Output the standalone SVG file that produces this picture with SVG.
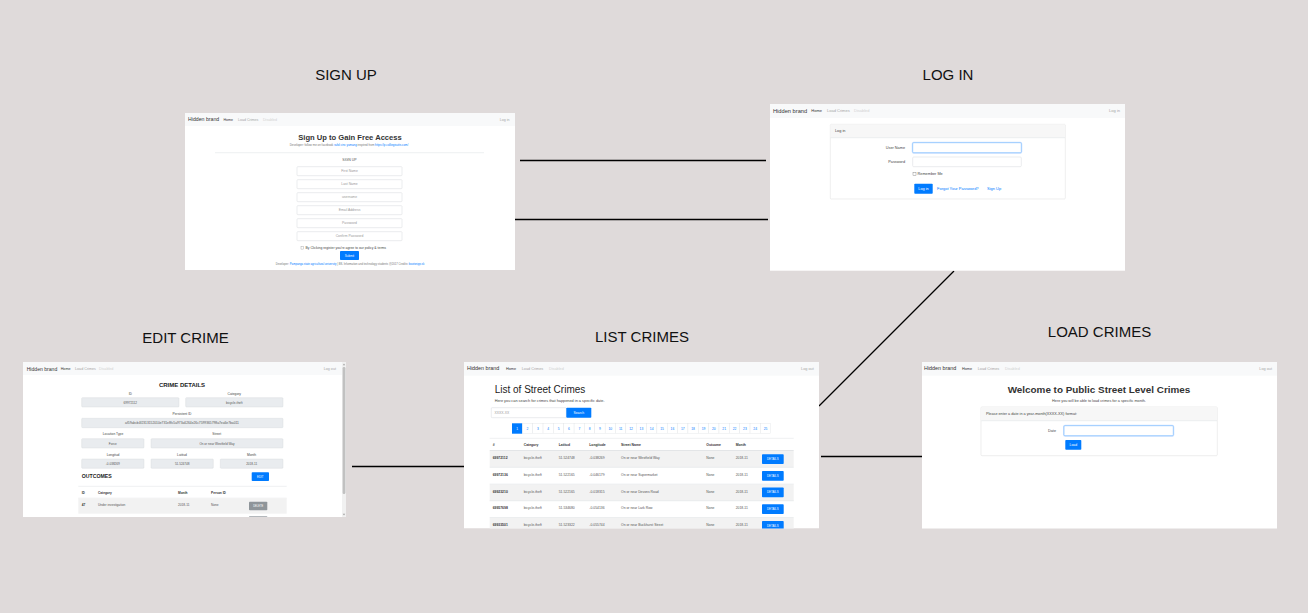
<svg xmlns="http://www.w3.org/2000/svg" width="1308" height="613" viewBox="0 0 1308 613" font-family="'Liberation Sans', Arial, sans-serif">
<defs>
<style>
.bg{fill:#dfdada}
.ttl{font-size:15px;fill:#111;text-anchor:middle}
.page{fill:#ffffff}
.nav{fill:#f8f9fa}
.brand{fill:#333}
.home{fill:#333}
.nl{fill:#a6a6a6}
.dis{fill:#d2d2d2}
.lbl{fill:#444}
.mid{text-anchor:middle}
.end{text-anchor:end}
.inp{fill:#fff;stroke:#d6d9dc;stroke-width:0.5}
.ro{fill:#e9ecef;stroke:#d4d8dc;stroke-width:0.4}
.foc{fill:#fff;stroke:#80bdff;stroke-width:0.7}
.glow{fill:none;stroke:#cfe4ff;stroke-width:2}
.btn{fill:#007bff}
.btxt{fill:#fff;text-anchor:middle}
.link{fill:#007bff}
.ph{fill:#9a9a9a;text-anchor:middle}
.card{fill:#fff;stroke:#e2e2e2;stroke-width:0.6}
.cardh{fill:#f7f7f7}
.stripe{fill:#f2f2f2}
.rule{stroke:#e3e5e8;stroke-width:0.6}
.hd{font-weight:bold;fill:#333}
.cell{fill:#555}
.pg{fill:#fff;stroke:#e0e3e6;stroke-width:0.4}
.conn{stroke:#000;stroke-width:1.3;fill:none}
</style>
<clipPath id="clipList"><rect x="464" y="362" width="355" height="166.5"/></clipPath>
<clipPath id="clipEdit"><rect x="23" y="362" width="323" height="155"/></clipPath>
</defs>

<rect class="bg" x="0" y="0" width="1308" height="613"/>

<!-- titles -->
<g id="titles">
<text class="ttl" x="346" y="79.5">SIGN UP</text>
<text class="ttl" x="948" y="79.5">LOG IN</text>
<text class="ttl" x="185.5" y="342.5">EDIT CRIME</text>
<text class="ttl" x="642" y="341.5">LIST CRIMES</text>
<text class="ttl" x="1099.5" y="336.5">LOAD CRIMES</text>
</g>

<!-- connectors -->
<g id="connectors">
<line class="conn" x1="520" y1="160.5" x2="766" y2="160.5"/>
<line class="conn" x1="515" y1="219.5" x2="768" y2="219.5"/>
<line class="conn" x1="954" y1="271" x2="819" y2="406"/>
<line class="conn" x1="352" y1="466.5" x2="464" y2="466.5"/>
<line class="conn" x1="821" y1="456.5" x2="922" y2="456.5"/>
</g>

<!-- SIGN UP -->
<g id="node-signup">
<rect class="page" x="185" y="113" width="330" height="157"/>
<rect class="nav" x="185" y="113" width="330" height="13"/>
<text class="brand" x="188" y="121.3" font-size="5.2">Hidden brand</text>
<text class="home" x="223.5" y="120.8" font-size="3.6">Home</text>
<text class="nl" x="238" y="120.8" font-size="3.6">Load Crimes</text>
<text class="dis" x="263" y="120.8" font-size="3.6">Disabled</text>
<text class="nl end" x="509.5" y="120.8" font-size="3.6">Log in</text>
<text x="350" y="139.6" font-size="7.6" font-weight="bold" fill="#333" class="mid">Sign Up to Gain Free Access</text>
<text x="349" y="146" font-size="2.9" fill="#777" class="mid">Developer: follow me on facebook <tspan class="link">rafol cinc yumang</tspan> inspired from <tspan class="link">https://p.colliegisutts.com/</tspan></text>
<line class="rule" x1="215" y1="152.7" x2="484" y2="152.7"/>
<text x="349.5" y="160.6" font-size="3.5" fill="#555" class="mid">SIGN UP</text>
<rect class="inp" x="297" y="166.7" width="105" height="9" rx="0.8"/>
<text class="ph" x="349.5" y="172.4" font-size="3.4">First Name</text>
<rect class="inp" x="297" y="179.7" width="105" height="9" rx="0.8"/>
<text class="ph" x="349.5" y="185.4" font-size="3.4">Last Name</text>
<rect class="inp" x="297" y="192.7" width="105" height="9" rx="0.8"/>
<text class="ph" x="349.5" y="198.4" font-size="3.4">username</text>
<rect class="inp" x="297" y="205.7" width="105" height="9" rx="0.8"/>
<text class="ph" x="349.5" y="211.4" font-size="3.4">Email Address</text>
<rect class="inp" x="297" y="218.7" width="105" height="9" rx="0.8"/>
<text class="ph" x="349.5" y="224.4" font-size="3.4">Password</text>
<rect class="inp" x="297" y="231.7" width="105" height="9" rx="0.8"/>
<text class="ph" x="349.5" y="237.4" font-size="3.4">Confirm Password</text>
<rect x="301" y="246.3" width="2.8" height="2.8" fill="#fff" stroke="#999" stroke-width="0.4"/>
<text x="305.5" y="248.9" font-size="3.4" fill="#444">By Clicking register you're agree to our policy &amp; terms</text>
<rect class="btn" x="340" y="251" width="19" height="9" rx="0.8"/>
<text class="btxt" x="349.5" y="256.5" font-size="3">Submit</text>
<text x="350" y="264.6" font-size="2.75" fill="#777" class="mid">Developer: <tspan class="link">Pampanga state agricultural university</tspan> | BS. Information and technology students @2017 Credits: <tspan class="link">bootsnipp.sk</tspan></text>
</g>

<!-- LOG IN -->
<g id="node-login">
<rect class="page" x="770" y="104" width="355" height="166.7"/>
<rect class="nav" x="770" y="104" width="355" height="14"/>
<text class="brand" x="773" y="113" font-size="5.7">Hidden brand</text>
<text class="home" x="811.3" y="112.4" font-size="4">Home</text>
<text class="nl" x="827" y="112.4" font-size="4">Load Crimes</text>
<text class="dis" x="854" y="112.4" font-size="4">Disabled</text>
<text class="nl end" x="1120" y="112.4" font-size="4">Log in</text>
<rect class="card" x="830.3" y="124.3" width="235" height="74.7" rx="1"/>
<rect class="cardh" x="830.6" y="124.6" width="234.4" height="13.1"/>
<line class="rule" x1="830.6" y1="137.7" x2="1065" y2="137.7"/>
<text class="lbl" x="835" y="132.4" font-size="3.8">Log in</text>
<text class="lbl end" x="905" y="149" font-size="3.8">User Name</text>
<rect class="glow" x="912.7" y="142.7" width="108.6" height="10" rx="1"/>
<rect class="foc" x="912.7" y="142.7" width="108.6" height="10" rx="1"/>
<text class="lbl end" x="905" y="163.3" font-size="3.8">Password</text>
<rect class="inp" x="912.7" y="157" width="108.6" height="9.7" rx="1"/>
<rect x="913" y="172.6" width="3" height="3" fill="#fff" stroke="#777" stroke-width="0.4"/>
<text class="lbl" x="917.6" y="175.4" font-size="3.8">Remember Me</text>
<rect class="btn" x="914.3" y="183.7" width="18.4" height="10" rx="0.8"/>
<text class="btxt" x="923.5" y="190" font-size="3.8">Log in</text>
<text class="link" x="937" y="190" font-size="4">Forgot Your Password?</text>
<text class="link" x="987" y="190" font-size="4">Sign Up</text>
</g>

<!-- EDIT CRIME -->
<g id="node-edit" clip-path="url(#clipEdit)">
<rect class="page" x="23" y="362" width="323" height="155"/>
<rect class="nav" x="23" y="362" width="319" height="13"/>
<text class="brand" x="26.7" y="370.6" font-size="5.1">Hidden brand</text>
<text class="home" x="60.7" y="370" font-size="3.7">Home</text>
<text class="nl" x="75" y="370" font-size="3.7">Load Crimes</text>
<text class="dis" x="99" y="370" font-size="3.7">Disabled</text>
<text class="nl end" x="336" y="370" font-size="3.7">Log out</text>
<rect x="342" y="362" width="4" height="155" fill="#f1f1f1"/>
<rect x="342.6" y="367" width="2.8" height="127" rx="1.2" fill="#c1c1c1"/>
<path d="M342.8 365.2 L344 363.4 L345.2 365.2 Z M342.8 513.8 L344 515.6 L345.2 513.8 Z" fill="#a3a3a3"/>
<text x="182" y="387.2" font-size="6" font-weight="bold" fill="#222" class="mid">CRIME DETAILS</text>
<text class="lbl mid" x="130.3" y="394.6" font-size="3.3">ID</text>
<text class="lbl mid" x="234.3" y="394.6" font-size="3.3">Category</text>
<rect class="ro" x="81.7" y="397.7" width="97.3" height="9.3" rx="0.8"/>
<rect class="ro" x="185.7" y="397.7" width="97.3" height="9.3" rx="0.8"/>
<text class="cell mid" x="130.3" y="403.5" font-size="3.1">69972112</text>
<text class="cell mid" x="234.3" y="403.5" font-size="3.1">bicycle-theft</text>
<text class="lbl mid" x="182" y="414.6" font-size="3.3">Persistent ID</text>
<rect class="ro" x="81.7" y="418.3" width="201.3" height="9.4" rx="0.8"/>
<text class="cell mid" x="182" y="424.1" font-size="3.3">af59abcb4f2313152010e731e8fc5a973a6264e26c7599365798a7ea6e7ba011</text>
<text class="lbl mid" x="113" y="435.3" font-size="3.3">Location Type</text>
<text class="lbl mid" x="216.7" y="435.3" font-size="3.3">Street</text>
<rect class="ro" x="81.7" y="438.7" width="62.3" height="9.3" rx="0.8"/>
<rect class="ro" x="151" y="438.7" width="132" height="9.3" rx="0.8"/>
<text class="cell mid" x="112.8" y="444.5" font-size="3.1">Force</text>
<text class="cell mid" x="217" y="444.5" font-size="3.1">On or near Westfield Way</text>
<text class="lbl mid" x="113" y="456" font-size="3.3">Longitud</text>
<text class="lbl mid" x="182" y="456" font-size="3.3">Latitud</text>
<text class="lbl mid" x="251.5" y="456" font-size="3.3">Month</text>
<rect class="ro" x="81.7" y="459" width="62.3" height="9.3" rx="0.8"/>
<rect class="ro" x="151" y="459" width="62.3" height="9.3" rx="0.8"/>
<rect class="ro" x="220.3" y="459" width="62.7" height="9.3" rx="0.8"/>
<text class="cell mid" x="112.8" y="464.8" font-size="3.1">-0.038269</text>
<text class="cell mid" x="182.2" y="464.8" font-size="3.1">51.524748</text>
<text class="cell mid" x="251.7" y="464.8" font-size="3.1">2018-11</text>
<text x="81.7" y="477.9" font-size="5.2" font-weight="bold" fill="#222">OUTCOMES</text>
<rect class="btn" x="251.7" y="472.3" width="17.3" height="8.7" rx="0.8"/>
<text class="btxt" x="260.3" y="477.6" font-size="2.8">EDIT</text>
<line class="rule" x1="78.3" y1="486.3" x2="286.7" y2="486.3"/>
<text class="hd" x="81.7" y="493.9" font-size="3.2">ID</text>
<text class="hd" x="98" y="493.9" font-size="3.2">Category</text>
<text class="hd" x="178" y="493.9" font-size="3.2">Month</text>
<text class="hd" x="211" y="493.9" font-size="3.2">Person ID</text>
<line class="rule" x1="78.3" y1="498.2" x2="286.7" y2="498.2"/>
<rect class="stripe" x="78.3" y="498.3" width="208.4" height="15.4"/>
<text class="hd" x="81.7" y="505.8" font-size="3.2">47</text>
<text class="cell" x="98" y="505.8" font-size="3.2">Under investigation</text>
<text class="cell" x="178" y="505.8" font-size="3.2">2018-11</text>
<text class="cell" x="211" y="505.8" font-size="3.2">None</text>
<rect x="249" y="501.7" width="18.3" height="8.6" rx="0.8" fill="#8f959a"/>
<text class="btxt" x="258.2" y="507" font-size="2.6">DELETE</text>
<rect x="249" y="516" width="18.3" height="6" rx="0.8" fill="#b4b8bc"/>
</g>

<!-- LIST CRIMES -->
<g id="node-list" clip-path="url(#clipList)">
<rect class="page" x="464" y="362" width="355" height="166.5"/>
<rect class="nav" x="464" y="362" width="355" height="13.7"/>
<text class="brand" x="467" y="370.4" font-size="5.4">Hidden brand</text>
<text class="home" x="506" y="369.8" font-size="3.8">Home</text>
<text class="nl" x="521.7" y="369.8" font-size="3.8">Load Crimes</text>
<text class="dis" x="549" y="369.8" font-size="3.8">Disabled</text>
<text class="nl end" x="813.7" y="369.8" font-size="3.8">Log out</text>
<text x="494.7" y="392.9" font-size="10" fill="#222">List of Street Crimes</text>
<text class="lbl" x="494.7" y="401.6" font-size="3.85">Here you can search for crimes that happened in a specific date.</text>
<rect class="inp" x="491.3" y="407.7" width="75" height="10" rx="0.8"/>
<text x="494.5" y="414" font-size="3.4" fill="#9a9a9a">XXXX-XX</text>
<rect class="btn" x="566.3" y="407.7" width="25" height="10" rx="0.8"/>
<text class="btxt" x="578.8" y="414" font-size="3.4">Search</text>
<g id="pagination" font-size="3.3">
<rect class="btn" x="512" y="423.3" width="10.35" height="10.4"/>
<text class="btxt" x="517.2" y="429.6">1</text>
<rect class="pg" x="522.35" y="423.3" width="10.35" height="10.4"/><text class="link mid" x="527.5" y="429.6">2</text>
<rect class="pg" x="532.7" y="423.3" width="10.35" height="10.4"/><text class="link mid" x="537.9" y="429.6">3</text>
<rect class="pg" x="543.05" y="423.3" width="10.35" height="10.4"/><text class="link mid" x="548.2" y="429.6">4</text>
<rect class="pg" x="553.4" y="423.3" width="10.35" height="10.4"/><text class="link mid" x="558.6" y="429.6">5</text>
<rect class="pg" x="563.75" y="423.3" width="10.35" height="10.4"/><text class="link mid" x="568.9" y="429.6">6</text>
<rect class="pg" x="574.1" y="423.3" width="10.35" height="10.4"/><text class="link mid" x="579.3" y="429.6">7</text>
<rect class="pg" x="584.45" y="423.3" width="10.35" height="10.4"/><text class="link mid" x="589.6" y="429.6">8</text>
<rect class="pg" x="594.8" y="423.3" width="10.35" height="10.4"/><text class="link mid" x="600" y="429.6">9</text>
<rect class="pg" x="605.15" y="423.3" width="10.35" height="10.4"/><text class="link mid" x="610.3" y="429.6">10</text>
<rect class="pg" x="615.5" y="423.3" width="10.35" height="10.4"/><text class="link mid" x="620.7" y="429.6">11</text>
<rect class="pg" x="625.85" y="423.3" width="10.35" height="10.4"/><text class="link mid" x="631" y="429.6">12</text>
<rect class="pg" x="636.2" y="423.3" width="10.35" height="10.4"/><text class="link mid" x="641.4" y="429.6">13</text>
<rect class="pg" x="646.55" y="423.3" width="10.35" height="10.4"/><text class="link mid" x="651.7" y="429.6">14</text>
<rect class="pg" x="656.9" y="423.3" width="10.35" height="10.4"/><text class="link mid" x="662.1" y="429.6">15</text>
<rect class="pg" x="667.25" y="423.3" width="10.35" height="10.4"/><text class="link mid" x="672.4" y="429.6">16</text>
<rect class="pg" x="677.6" y="423.3" width="10.35" height="10.4"/><text class="link mid" x="682.8" y="429.6">17</text>
<rect class="pg" x="687.95" y="423.3" width="10.35" height="10.4"/><text class="link mid" x="693.1" y="429.6">18</text>
<rect class="pg" x="698.3" y="423.3" width="10.35" height="10.4"/><text class="link mid" x="703.5" y="429.6">19</text>
<rect class="pg" x="708.65" y="423.3" width="10.35" height="10.4"/><text class="link mid" x="713.8" y="429.6">20</text>
<rect class="pg" x="719" y="423.3" width="10.35" height="10.4"/><text class="link mid" x="724.2" y="429.6">21</text>
<rect class="pg" x="729.35" y="423.3" width="10.35" height="10.4"/><text class="link mid" x="734.5" y="429.6">22</text>
<rect class="pg" x="739.7" y="423.3" width="10.35" height="10.4"/><text class="link mid" x="744.9" y="429.6">23</text>
<rect class="pg" x="750.05" y="423.3" width="10.35" height="10.4"/><text class="link mid" x="755.2" y="429.6">24</text>
<rect class="pg" x="760.4" y="423.3" width="10.35" height="10.4"/><text class="link mid" x="765.6" y="429.6">25</text>
</g>
<line class="rule" x1="489.7" y1="438.3" x2="793.7" y2="438.3"/>
<g font-size="3.4">
<text class="hd" x="492.7" y="445.6">#</text>
<text class="hd" x="523.7" y="445.6">Category</text>
<text class="hd" x="558.7" y="445.6">Latitud</text>
<text class="hd" x="589.3" y="445.6">Longitude</text>
<text class="hd" x="621" y="445.6">Street Name</text>
<text class="hd" x="706.3" y="445.6">Outcome</text>
<text class="hd" x="735.7" y="445.6">Month</text>
</g>
<line x1="489.7" y1="450.6" x2="793.7" y2="450.6" stroke="#dcdfe2" stroke-width="0.9"/>
<rect class="stripe" x="489.7" y="451" width="304" height="16.3"/>
<rect class="stripe" x="489.7" y="484.3" width="304" height="16.7"/>
<rect class="stripe" x="489.7" y="517.7" width="304" height="16.7"/>
<line class="rule" x1="489.7" y1="467.4" x2="793.7" y2="467.4"/>
<line class="rule" x1="489.7" y1="484.1" x2="793.7" y2="484.1"/>
<line class="rule" x1="489.7" y1="500.8" x2="793.7" y2="500.8"/>
<line class="rule" x1="489.7" y1="517.5" x2="793.7" y2="517.5"/>
<g font-size="3.4">
<text class="hd" x="492.7" y="459.2">69972112</text>
<text class="cell" x="523.7" y="459.2">bicycle-theft</text>
<text class="cell" x="558.7" y="459.2">51.524748</text>
<text class="cell" x="589.3" y="459.2">-0.038269</text>
<text class="cell" x="621" y="459.2">On or near Westfield Way</text>
<text class="cell" x="706.3" y="459.2">None</text>
<text class="cell" x="735.7" y="459.2">2018-11</text>
<rect class="btn" x="762" y="454.2" width="21.7" height="9.8" rx="0.8"/>
<text class="btxt" x="772.8" y="460" font-size="2.8">DETAILS</text>

<text class="hd" x="492.7" y="475.9">69972136</text>
<text class="cell" x="523.7" y="475.9">bicycle-theft</text>
<text class="cell" x="558.7" y="475.9">51.522165</text>
<text class="cell" x="589.3" y="475.9">-0.046179</text>
<text class="cell" x="621" y="475.9">On or near Supermarket</text>
<text class="cell" x="706.3" y="475.9">None</text>
<text class="cell" x="735.7" y="475.9">2018-11</text>
<rect class="btn" x="762" y="470.9" width="21.7" height="9.8" rx="0.8"/>
<text class="btxt" x="772.8" y="476.7" font-size="2.8">DETAILS</text>

<text class="hd" x="492.7" y="492.5">69923210</text>
<text class="cell" x="523.7" y="492.5">bicycle-theft</text>
<text class="cell" x="558.7" y="492.5">51.522165</text>
<text class="cell" x="589.3" y="492.5">-0.018315</text>
<text class="cell" x="621" y="492.5">On or near Devons Road</text>
<text class="cell" x="706.3" y="492.5">None</text>
<text class="cell" x="735.7" y="492.5">2018-11</text>
<rect class="btn" x="762" y="487.5" width="21.7" height="9.8" rx="0.8"/>
<text class="btxt" x="772.8" y="493.3" font-size="2.8">DETAILS</text>

<text class="hd" x="492.7" y="509.2">69957698</text>
<text class="cell" x="523.7" y="509.2">bicycle-theft</text>
<text class="cell" x="558.7" y="509.2">51.534680</text>
<text class="cell" x="589.3" y="509.2">-0.054136</text>
<text class="cell" x="621" y="509.2">On or near Lark Row</text>
<text class="cell" x="706.3" y="509.2">None</text>
<text class="cell" x="735.7" y="509.2">2018-11</text>
<rect class="btn" x="762" y="504.2" width="21.7" height="9.8" rx="0.8"/>
<text class="btxt" x="772.8" y="510" font-size="2.8">DETAILS</text>

<text class="hd" x="492.7" y="525.9">69933501</text>
<text class="cell" x="523.7" y="525.9">bicycle-theft</text>
<text class="cell" x="558.7" y="525.9">51.523322</text>
<text class="cell" x="589.3" y="525.9">-0.055744</text>
<text class="cell" x="621" y="525.9">On or near Buckhurst Street</text>
<text class="cell" x="706.3" y="525.9">None</text>
<text class="cell" x="735.7" y="525.9">2018-11</text>
<rect class="btn" x="762" y="520.9" width="21.7" height="9.8" rx="0.8"/>
<text class="btxt" x="772.8" y="526.7" font-size="2.8">DETAILS</text>
</g>
</g>

<!-- LOAD CRIMES -->
<g id="node-load">
<rect class="page" x="922" y="362" width="355" height="166.5"/>
<rect class="nav" x="922" y="362" width="355" height="13.7"/>
<text class="brand" x="924" y="370.4" font-size="5.4">Hidden brand</text>
<text class="home" x="962" y="369.8" font-size="3.8">Home</text>
<text class="nl" x="977.7" y="369.8" font-size="3.8">Load Crimes</text>
<text class="dis" x="1005" y="369.8" font-size="3.8">Disabled</text>
<text class="nl end" x="1272" y="369.8" font-size="3.8">Log out</text>
<text x="1099" y="392.9" font-size="9.9" font-weight="bold" fill="#333" class="mid">Welcome to Public Street Level Crimes</text>
<text class="lbl mid" x="1099" y="401.6" font-size="3.75">Here you will be able to load crimes for a specific month.</text>
<rect class="card" x="981" y="407" width="236.3" height="48.7" rx="1"/>
<rect class="cardh" x="981.3" y="407.3" width="235.7" height="13.4"/>
<line class="rule" x1="981.3" y1="420.7" x2="1217" y2="420.7"/>
<text class="lbl" x="986" y="415.3" font-size="3.75">Please enter a date in a year-month(XXXX-XX) format:</text>
<text class="lbl end" x="1056" y="432" font-size="3.75">Date</text>
<rect class="glow" x="1064" y="425.7" width="109.3" height="10" rx="1"/>
<rect class="foc" x="1064" y="425.7" width="109.3" height="10" rx="1"/>
<rect class="btn" x="1065.3" y="440" width="16" height="9.7" rx="0.8"/>
<text class="btxt" x="1073.3" y="446.1" font-size="3.4">Load</text>
</g>
</svg>
